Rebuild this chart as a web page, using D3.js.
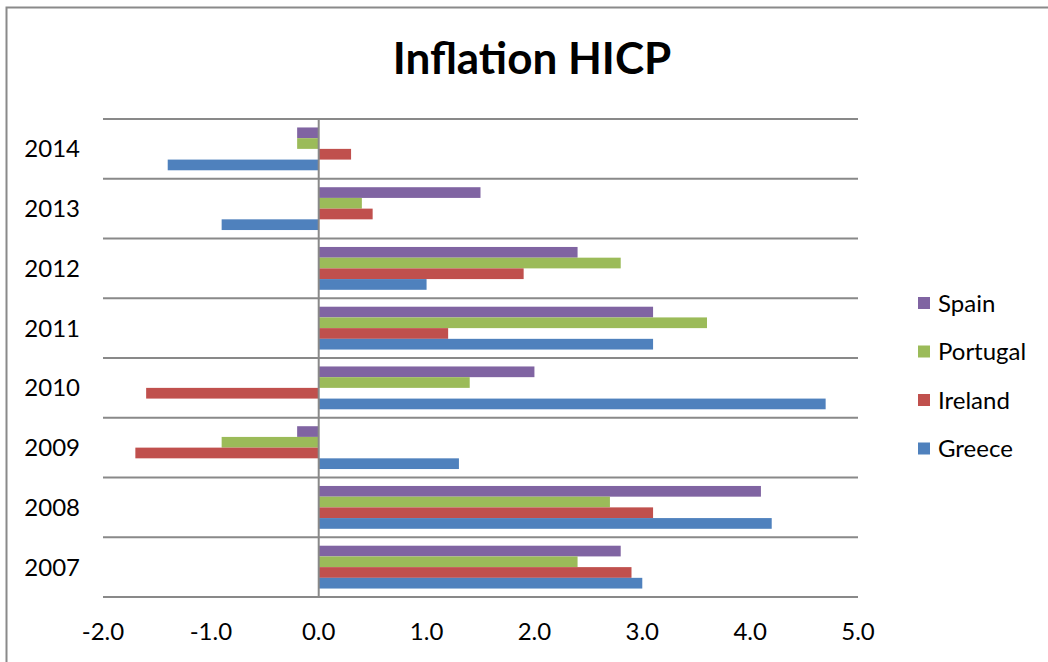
<!DOCTYPE html>
<html>
<head>
<meta charset="utf-8">
<script src="https://cdn.jsdelivr.net/npm/d3@7"></script>
<style>
  html, body { margin: 0; padding: 0; background: #fff; }
  svg { display: block; font-family: Lato, "Open Sans", sans-serif; }
</style>
</head>
<body>
<svg id="chart" width="1048" height="662"></svg>
<script>
// HICP inflation by year (%), one array per country
const years = ["2007", "2008", "2009", "2010", "2011", "2012", "2013", "2014"];
const seriesNames = ["Spain", "Portugal", "Ireland", "Greece"];
const greece   = [3.0, 4.2, 1.3, 4.7, 3.1, 1.0, -0.9, -1.4];
const ireland  = [2.9, 3.1, -1.7, -1.6, 1.2, 1.9, 0.5, 0.3];
const portugal = [2.4, 2.7, -0.9, 1.4, 3.6, 2.8, 0.4, -0.2];
const spain    = [2.8, 4.1, -0.2, 2.0, 3.1, 2.4, 1.5, -0.2];
const xTicks = [-2, -1, 0, 1, 2, 3, 4, 5];
const colors = { Spain: "#8064A2", Portugal: "#9BBB59", Ireland: "#C0504D", Greece: "#4F81BD" };

const valuesBySeries = { Spain: spain, Portugal: portugal, Ireland: ireland, Greece: greece };

const svg = d3.select("#chart");
const plot = { left: 103, right: 858, top: 119, bottom: 597 };

// outer frame
svg.append("rect")
  .attr("x", 6.5).attr("y", 7.5)
  .attr("width", 1060).attr("height", 700)
  .attr("fill", "none").attr("stroke", "#8a8a8a").attr("stroke-width", 2);

const x = d3.scaleLinear().domain([-2, 5]).range([plot.left, plot.right]);
// newest year at top
const y = d3.scaleBand().domain(years.slice().reverse()).range([plot.top, plot.bottom]).padding(0);
const ySub = d3.scaleBand().domain(seriesNames).range([0, y.bandwidth()]).paddingInner(0).paddingOuter(0.79);

// horizontal grid lines at category boundaries
const bounds = years.map(yr => y(yr)).concat([plot.bottom]);
svg.append("g").selectAll("line").data(bounds).join("line")
  .attr("x1", plot.left).attr("x2", plot.right)
  .attr("y1", d => d).attr("y2", d => d)
  .attr("stroke", "#898989").attr("stroke-width", 2);

// bars
const rows = [];
years.forEach((yr, i) => seriesNames.forEach(s => rows.push({ year: yr, series: s, value: valuesBySeries[s][i] })));
svg.append("g").selectAll("rect").data(rows).join("rect")
  .attr("x", d => x(Math.min(0, d.value)))
  .attr("width", d => Math.abs(x(d.value) - x(0)))
  .attr("y", d => y(d.year) + ySub(d.series))
  .attr("height", ySub.bandwidth())
  .attr("fill", d => colors[d.series]);

// vertical axis at zero
svg.append("line")
  .attr("x1", x(0)).attr("x2", x(0))
  .attr("y1", plot.top).attr("y2", plot.bottom)
  .attr("stroke", "#898989").attr("stroke-width", 2);

// year labels
svg.append("g").selectAll("text").data(years).join("text")
  .attr("x", 80).attr("y", d => y(d) + y.bandwidth() / 2 + 8.5)
  .attr("text-anchor", "end").attr("font-size", 24).attr("fill", "#000")
  .text(d => d);

// value axis labels (plain hyphen for negatives)
const fmt = d3.formatLocale({ decimal: ".", thousands: ",", grouping: [3], currency: ["", ""], minus: "-" }).format(".1f");
svg.append("g").selectAll("text").data(xTicks).join("text")
  .attr("x", d => x(d)).attr("y", 640)
  .attr("text-anchor", "middle").attr("font-size", 24).attr("fill", "#000")
  .text(d => fmt(d));

// title
svg.append("text")
  .attr("x", 532).attr("y", 74)
  .attr("text-anchor", "middle").attr("font-size", 44).attr("font-weight", "bold").attr("fill", "#000")
  .text("Inflation HICP");

// legend
const legend = svg.append("g").selectAll("g").data(seriesNames).join("g")
  .attr("transform", (d, i) => `translate(918, ${303 + i * 48.5})`);
legend.append("rect").attr("x", 0).attr("y", -6).attr("width", 12).attr("height", 12)
  .attr("fill", d => colors[d]);
legend.append("text").attr("x", 20).attr("y", 8.5)
  .attr("font-size", 24).attr("fill", "#000").text(d => d);
</script>
</body>
</html>
